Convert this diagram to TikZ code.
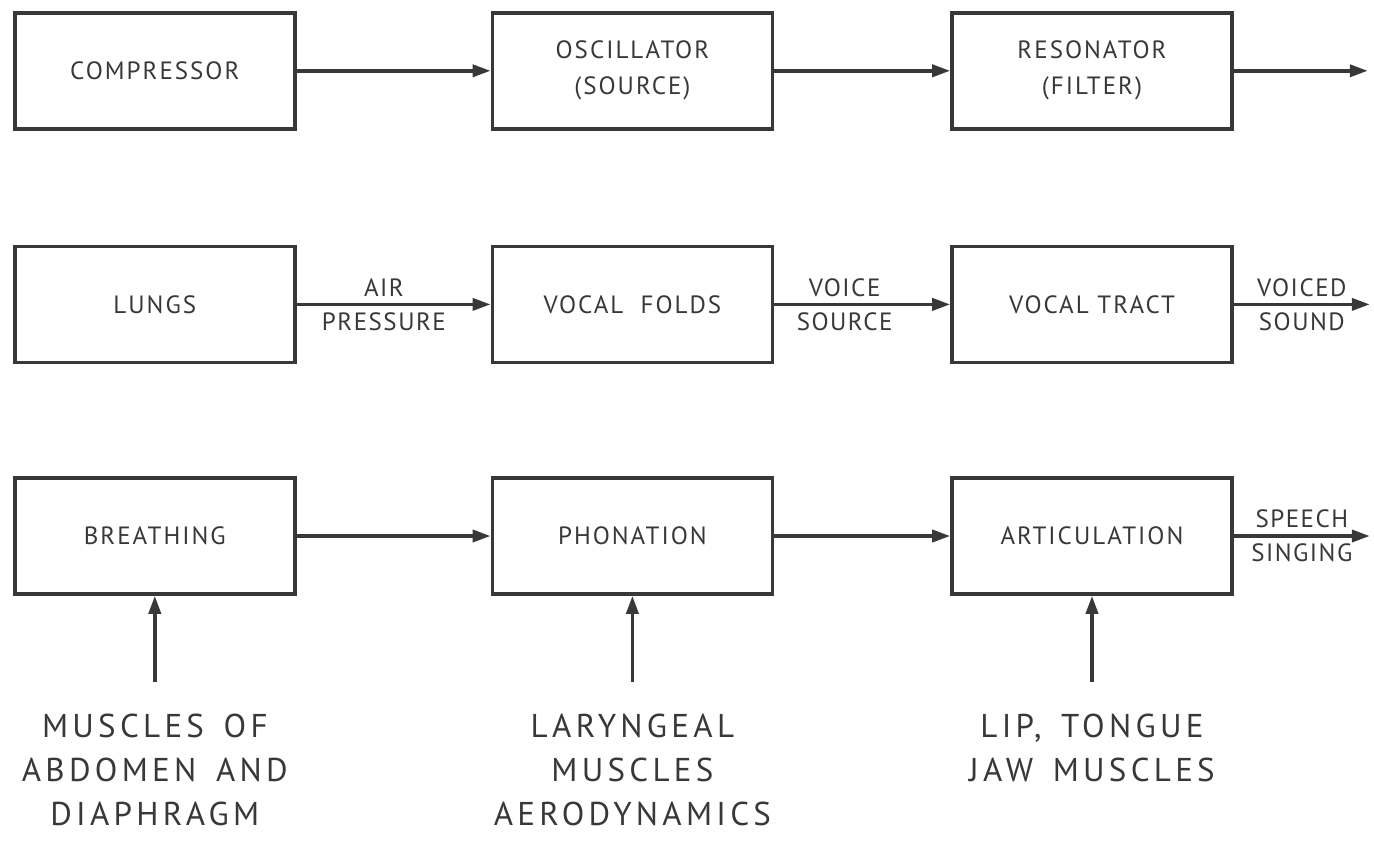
\documentclass[tikz,border=0pt]{standalone}
\usepackage{fontspec}
\setmainfont{PT Sans}
\newfontfamily\cuefont{PT Sans}[LetterSpace=13,WordSpace=1.5]
\usetikzlibrary{positioning,arrows.meta}
\definecolor{ink}{HTML}{383838}

\begin{document}
\begin{tikzpicture}[
  >={Triangle[length=9pt,width=6pt]},
  color=ink,
  line width=1.8pt,
  block/.style={draw,minimum width=140pt,minimum height=58pt,align=center,
    font=\fontsize{12.5}{18}\selectfont\addfontfeature{LetterSpace=8}},
  tag/.style={font=\fontsize{12.5}{17}\selectfont\addfontfeature{LetterSpace=6},
    align=center,inner sep=3pt},
  cue/.style={font=\cuefont\fontsize{16.5}{22}\selectfont,
    align=center,inner sep=0pt},
  flow/.style={->}
]
  \useasboundingbox (0,0) rectangle (687pt,-420.5pt);

  % model
  \node[block,anchor=north west] (comp) at (6.5pt,-5.5pt) {COMPRESSOR};
  \node[block,right=97pt of comp] (osc) {OSCILLATOR\\(SOURCE)};
  \node[block,right=88pt of osc] (res) {RESONATOR\\(FILTER)};
  \coordinate[right=67pt of res.east] (resout);

  % organs
  \node[block,below=57pt of comp] (lungs) {LUNGS};
  \node[block,below=57pt of osc] (folds) {VOCAL\ \ FOLDS};
  \node[block,below=57pt of res] (tract) {VOCAL\ TRACT};
  \coordinate[right=68pt of tract.east] (tractout);

  % functions
  \node[block,below=56pt of lungs] (breath) {BREATHING};
  \node[block,below=56pt of folds] (phon) {PHONATION};
  \node[block,below=56pt of tract] (artic) {ARTICULATION};
  \coordinate[right=68pt of artic.east] (articout);

  % muscles
  \node[cue,below=58pt of breath] (abdo) {MUSCLES OF\\ABDOMEN AND\\DIAPHRAGM};
  \node[cue,below=58pt of phon] (laryn) {LARYNGEAL\\MUSCLES\\AERODYNAMICS};
  \node[cue,below=58pt of artic] (jaw) {LIP, TONGUE\\JAW MUSCLES};

  \draw[flow] (comp) -- (osc);
  \draw[flow] (osc) -- (res);
  \draw[flow] (res) -- (resout);

  \draw[flow] (lungs) -- node[tag,above,pos=.45]{AIR} node[tag,below,pos=.45]{PRESSURE} (folds);
  \draw[flow] (folds) -- node[tag,above,pos=.4]{VOICE} node[tag,below,pos=.4]{SOURCE} (tract);
  \draw[flow] (tract) -- node[tag,above]{VOICED} node[tag,below]{SOUND} (tractout);

  \draw[flow] (breath) -- (phon);
  \draw[flow] (phon) -- (artic);
  \draw[flow] (artic) -- node[tag,above]{SPEECH} node[tag,below]{SINGING} (articout);

  \draw[flow,shorten <=15pt] (abdo) -- (breath);
  \draw[flow,shorten <=15pt] (laryn) -- (phon);
  \draw[flow,shorten <=15pt] (jaw) -- (artic);
\end{tikzpicture}
\end{document}
